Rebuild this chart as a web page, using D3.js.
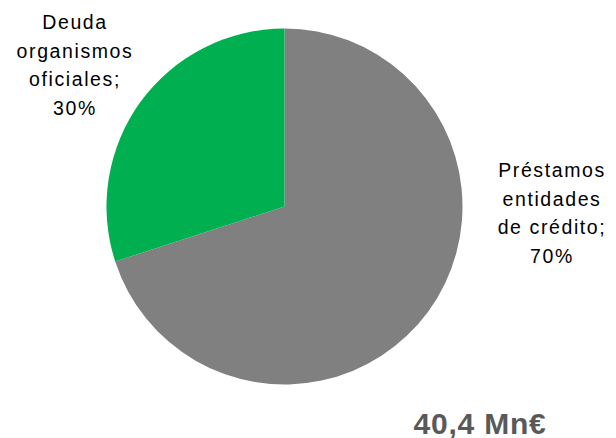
<!DOCTYPE html>
<html>
<head>
<meta charset="utf-8">
<script src="https://cdn.jsdelivr.net/npm/d3@7"></script>
<style>
  html, body { margin: 0; padding: 0; background: #fff; }
  svg { display: block; }
</style>
</head>
<body>
<svg id="chart" width="616" height="438"></svg>
<script>
// Breakdown of financing sources (share of total debt)
const categories = ["Préstamos entidades de crédito", "Deuda organismos oficiales"];
const shares = [70, 30];
const colors = ["#808080", "#00b050"];
const labelLines = [
  ["Préstamos", "entidades", "de crédito;", "70%"],
  ["Deuda", "organismos", "oficiales;", "30%"]
];
const totalLabel = "40,4 Mn€";

const svg = d3.select("#chart");
const cx = 284.5, cy = 206.5, radius = 178;
const fontFamily = "'Liberation Sans', Arial, sans-serif";

const pie = d3.pie().sort(null).value(d => d.value);
const arcs = pie(categories.map((c, i) => ({ name: c, value: shares[i], color: colors[i], lines: labelLines[i] })));
const arc = d3.arc().innerRadius(0).outerRadius(radius);

const g = svg.append("g").attr("transform", `translate(${cx},${cy})`);
g.selectAll("path.slice")
  .data(arcs)
  .join("path")
  .attr("class", "slice")
  .attr("d", arc)
  .attr("fill", d => d.data.color);

// Category labels placed outside the pie
const labelPos = [
  { x: 552, y: 177 },
  { x: 75, y: 29 }
];
const lineHeight = 28.6;
arcs.forEach((a, i) => {
  const t = svg.append("text")
    .attr("x", labelPos[i].x)
    .attr("y", labelPos[i].y)
    .attr("text-anchor", "middle")
    .attr("font-family", fontFamily)
    .attr("font-size", "19.5px")
    .attr("letter-spacing", "1.6px")
    .attr("fill", "#000");
  a.data.lines.forEach((ln, j) => {
    t.append("tspan")
      .attr("x", labelPos[i].x)
      .attr("y", labelPos[i].y + j * lineHeight)
      .text(ln);
  });
});

// Total amount
svg.append("text")
  .attr("x", 480)
  .attr("y", 434)
  .attr("text-anchor", "middle")
  .attr("font-family", fontFamily)
  .attr("font-weight", "bold")
  .attr("font-size", "30px")
  .attr("letter-spacing", "0.8px")
  .attr("fill", "#595959")
  .text(totalLabel);
</script>
</body>
</html>
